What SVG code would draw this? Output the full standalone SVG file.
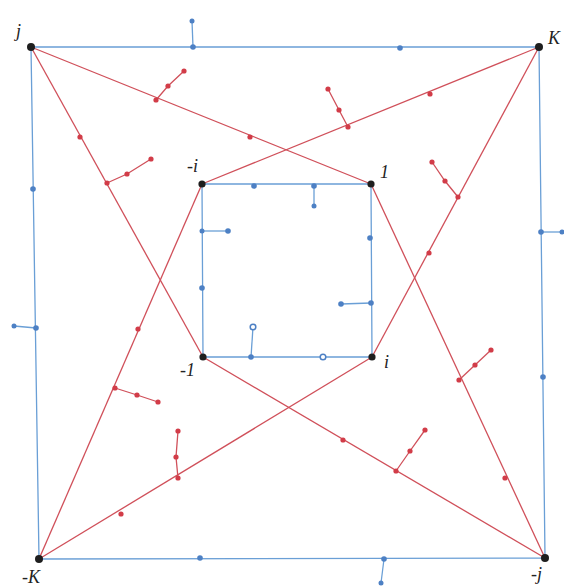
<svg xmlns="http://www.w3.org/2000/svg" width="564" height="588" viewBox="0 0 564 588">
<style>
.b{stroke:#6a9fd6;stroke-width:1.3;fill:none}
.r{stroke:#d0505a;stroke-width:1.3;fill:none}
.bd{fill:#4d80c4}
.rd{fill:#d23c48}
.v{fill:#1e1e1e}
text{font-family:"Liberation Serif",serif;font-style:italic;font-size:18px;fill:#222}
</style>
<rect width="564" height="588" fill="#ffffff"/>
<g id="connectors">
<polyline class="b" points="31,47 539,47 545,558 39,559 31,47"/>
<polyline class="b" points="202,184 371,184 372,357 203,357 202,184"/>
<line class="r" x1="31" y1="47" x2="371" y2="184"/>
<line class="r" x1="31" y1="47" x2="203" y2="357"/>
<line class="r" x1="539" y1="47" x2="202" y2="184"/>
<line class="r" x1="539" y1="47" x2="372" y2="357"/>
<line class="r" x1="39" y1="559" x2="202" y2="184"/>
<line class="r" x1="39" y1="559" x2="372" y2="357"/>
<line class="r" x1="545" y1="558" x2="371" y2="184"/>
<line class="r" x1="545" y1="558" x2="203" y2="357"/>
</g>
<g id="red-stubs">
<polyline class="r" points="156,100 168,86 184,71"/>
<circle class="rd" cx="156" cy="100" r="2.6"/><circle class="rd" cx="168" cy="86" r="2.6"/><circle class="rd" cx="184" cy="71" r="2.6"/>
<circle class="rd" cx="250" cy="137" r="2.6"/>
<polyline class="r" points="107,183 127,174 151,159"/>
<circle class="rd" cx="107" cy="183" r="2.6"/><circle class="rd" cx="127" cy="174" r="2.6"/><circle class="rd" cx="151" cy="159" r="2.6"/>
<circle class="rd" cx="80" cy="137" r="2.6"/>
<polyline class="r" points="348,127 339,110 328,89"/>
<circle class="rd" cx="348" cy="127" r="2.6"/><circle class="rd" cx="339" cy="110" r="2.6"/><circle class="rd" cx="328" cy="89" r="2.6"/>
<circle class="rd" cx="430" cy="94" r="2.6"/>
<polyline class="r" points="458,197 445,181 432,162"/>
<circle class="rd" cx="458" cy="197" r="2.6"/><circle class="rd" cx="445" cy="181" r="2.6"/><circle class="rd" cx="432" cy="162" r="2.6"/>
<circle class="rd" cx="429" cy="253" r="2.6"/>
<polyline class="r" points="459,380 475,365 491,350"/>
<circle class="rd" cx="459" cy="380" r="2.6"/><circle class="rd" cx="475" cy="365" r="2.6"/><circle class="rd" cx="491" cy="350" r="2.6"/>
<circle class="rd" cx="505" cy="478" r="2.6"/>
<polyline class="r" points="396,471 410,451 425,430"/>
<circle class="rd" cx="396" cy="471" r="2.6"/><circle class="rd" cx="410" cy="451" r="2.6"/><circle class="rd" cx="425" cy="430" r="2.6"/>
<circle class="rd" cx="343" cy="440" r="2.6"/>
<polyline class="r" points="178,478 176,457 178,431"/>
<circle class="rd" cx="178" cy="478" r="2.6"/><circle class="rd" cx="176" cy="457" r="2.6"/><circle class="rd" cx="178" cy="431" r="2.6"/>
<circle class="rd" cx="121" cy="514" r="2.6"/>
<polyline class="r" points="115,388 137,395 158,402"/>
<circle class="rd" cx="115" cy="388" r="2.6"/><circle class="rd" cx="137" cy="395" r="2.6"/><circle class="rd" cx="158" cy="402" r="2.6"/>
<circle class="rd" cx="138" cy="329" r="2.6"/>
</g>
<g id="blue-stubs">
<line class="b" x1="193" y1="47" x2="192" y2="21"/>
<circle class="bd" cx="193" cy="47" r="2.8"/><circle class="bd" cx="192" cy="21" r="2.5"/>
<circle class="bd" cx="400" cy="48" r="2.8"/>
<circle class="bd" cx="33" cy="189" r="2.8"/>
<line class="b" x1="36" y1="328" x2="14" y2="326"/>
<circle class="bd" cx="36" cy="328" r="2.8"/><circle class="bd" cx="14" cy="326" r="2.5"/>
<line class="b" x1="541" y1="232" x2="562" y2="232"/>
<circle class="bd" cx="541" cy="232" r="2.8"/><circle class="bd" cx="562" cy="232" r="2.5"/>
<circle class="bd" cx="543" cy="377" r="2.8"/>
<circle class="bd" cx="200" cy="558" r="2.8"/>
<line class="b" x1="384" y1="559" x2="381" y2="583"/>
<circle class="bd" cx="384" cy="559" r="2.8"/><circle class="bd" cx="381" cy="583" r="2.5"/>
<circle class="bd" cx="254" cy="186" r="2.8"/>
<line class="b" x1="314" y1="186" x2="314" y2="206"/>
<circle class="bd" cx="314" cy="186" r="2.8"/><circle class="bd" cx="314" cy="206" r="2.5"/>
<line class="b" x1="202" y1="231" x2="228" y2="231"/>
<circle class="bd" cx="202" cy="231" r="2.5"/><circle class="bd" cx="228" cy="231" r="2.8"/>
<circle class="bd" cx="202" cy="288" r="2.8"/>
<circle class="bd" cx="370" cy="238" r="2.8"/>
<line class="b" x1="371" y1="303" x2="341" y2="304"/>
<circle class="bd" cx="371" cy="303" r="2.8"/><circle class="bd" cx="341" cy="304" r="2.8"/>
<line class="b" x1="251" y1="357" x2="253" y2="327"/>
<circle class="bd" cx="251" cy="357" r="2.8"/><circle cx="253" cy="327" r="2.8" fill="#fff" stroke="#4d80c4" stroke-width="1.5"/>
<circle cx="323" cy="357" r="2.8" fill="#fff" stroke="#4d80c4" stroke-width="1.5"/>
</g>
<g id="node-j"><circle class="v" cx="31" cy="47" r="4"/><text x="16" y="37">j</text></g>
<g id="node-K"><circle class="v" cx="539" cy="47" r="4"/><text x="548" y="44">K</text></g>
<g id="node-negK"><circle class="v" cx="39" cy="559" r="4"/><text x="22" y="583">-K</text></g>
<g id="node-negj"><circle class="v" cx="545" cy="558" r="4"/><text x="531" y="580">-j</text></g>
<g id="node-negi"><circle class="v" cx="202" cy="184" r="3.6"/><text x="187" y="172">-i</text></g>
<g id="node-1"><circle class="v" cx="371" cy="184" r="3.6"/><text x="380" y="178">1</text></g>
<g id="node-neg1"><circle class="v" cx="203" cy="357" r="3.6"/><text x="180" y="376">-1</text></g>
<g id="node-i"><circle class="v" cx="372" cy="357" r="3.6"/><text x="384" y="368">i</text></g>
</svg>
